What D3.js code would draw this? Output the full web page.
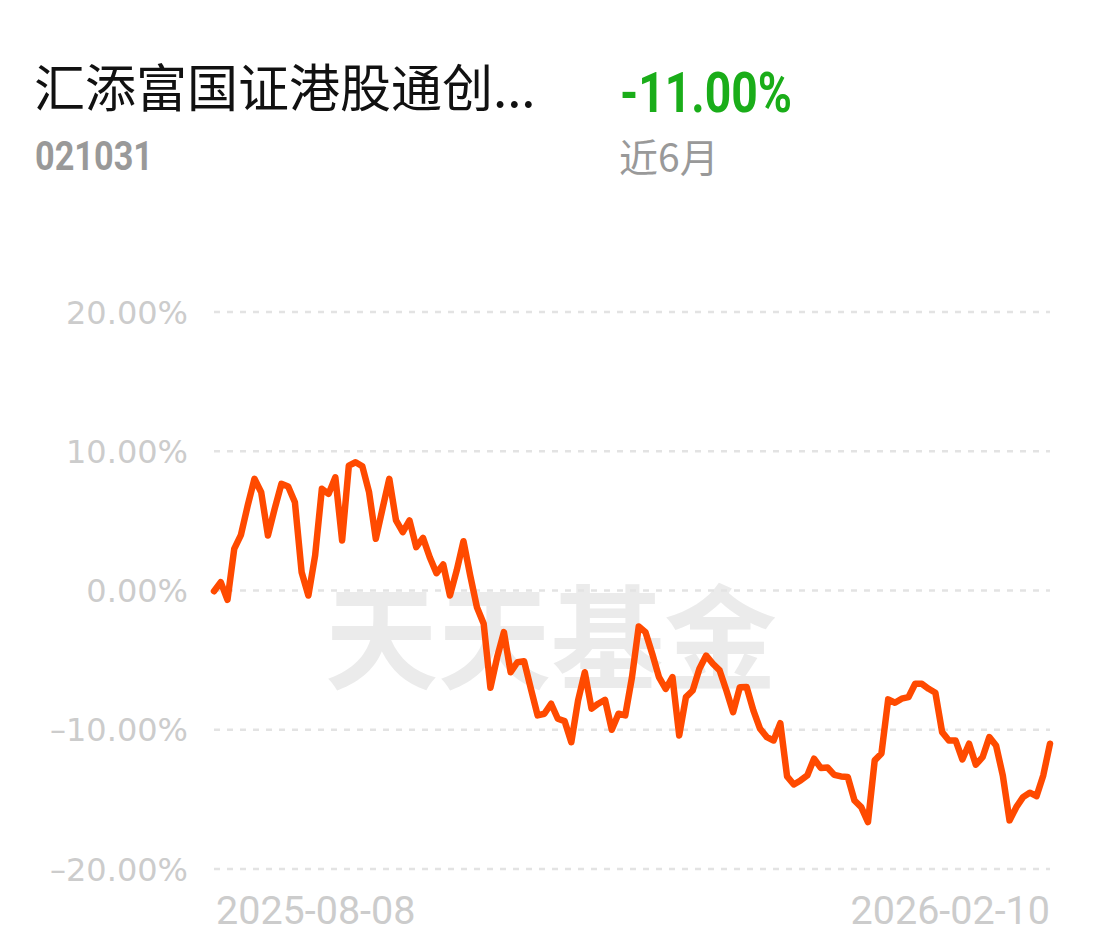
<!DOCTYPE html>
<html><head><meta charset="utf-8">
<script src="https://cdn.jsdelivr.net/npm/d3@7"></script>
<style>
html,body{margin:0;padding:0;background:#fff;}
svg{display:block;}
</style></head>
<body>
<svg id="c" width="1102" height="951"></svg>
<script>
// ---- data ----
const fundName = "汇添富国证港股通创...";
const fundCode = "021031";
const periodReturn = "-11.00%";
const periodLabel = "近6月";
const watermark = "天天基金";
const xLabels = ["2025-08-08", "2026-02-10"];
const yTicks = [20, 10, 0, -10, -20];
const yTickLabels = ["20.00%", "10.00%", "0.00%", "–10.00%", "–20.00%"];
// cumulative return (%) per trading day, 2025-08-08 .. 2026-02-10
const returns = [
  -0.05, 0.60, -0.67, 2.99, 4.00, 6.10, 8.02, 7.06, 3.95, 5.87,
  7.66, 7.47, 6.34, 1.31, -0.36, 2.51, 7.30, 6.94, 8.13, 3.59,
  8.97, 9.21, 8.92, 7.06, 3.71, 5.89, 8.02, 5.03, 4.19, 5.03,
  3.11, 3.78, 2.39, 1.24, 1.87, -0.36, 1.44, 3.54, 1.08, -1.20,
  -2.39, -6.98, -4.79, -2.99, -5.87, -5.15, -5.08, -7.06, -8.97, -8.85,
  -8.13, -9.21, -9.38, -10.89, -7.90, -5.87, -8.49, -8.13, -7.85, -10.00,
  -8.85, -8.97, -6.22, -2.58, -2.99, -4.54, -6.22, -7.06, -6.22, -10.41,
  -7.66, -7.18, -5.62, -4.67, -5.26, -5.74, -7.18, -8.74, -6.94, -6.93,
  -8.61, -9.93, -10.53, -10.77, -9.53, -13.35, -13.93, -13.64, -13.28, -12.08,
  -12.74, -12.71, -13.24, -13.35, -13.39, -15.08, -15.56, -16.63, -12.20, -11.70,
  -7.82, -8.06, -7.77, -7.66, -6.70, -6.70, -7.06, -7.34, -10.17, -10.77,
  -10.77, -12.13, -11.00, -12.51, -11.97, -10.53, -11.13, -13.28, -16.51, -15.56,
  -14.84, -14.52, -14.77, -13.28, -11.00
];

// ---- layout ----
const svg = d3.select("#c");
const plot = {left: 214, right: 1050, top: 312, bottom: 869};
const x = d3.scaleLinear().domain([0, returns.length - 1]).range([plot.left, plot.right]);
const y = d3.scaleLinear().domain([-20, 20]).range([plot.bottom, plot.top]);

// header
svg.append("text").attr("x", 34).attr("y", 107)
  .attr("font-family", "'Noto Sans CJK SC', sans-serif").attr("font-size", 51)
  .attr("fill", "#111").text(fundName);
svg.append("text").attr("x", 35).attr("y", 170)
  .attr("font-family", "Roboto, sans-serif").attr("font-weight", 700).attr("font-size", 40)
  .attr("textLength", 118).attr("lengthAdjust", "spacingAndGlyphs")
  .attr("fill", "#999").text(fundCode);
svg.append("text").attr("x", 620).attr("y", 112)
  .attr("font-family", "Roboto, sans-serif").attr("font-weight", 700).attr("font-size", 56)
  .attr("textLength", 172).attr("lengthAdjust", "spacingAndGlyphs")
  .attr("fill", "#1aad19").text(periodReturn);
svg.append("text").attr("x", 619).attr("y", 172)
  .attr("font-family", "'Noto Sans CJK SC', sans-serif").attr("font-size", 39)
  .attr("fill", "#999").text(periodLabel);

// watermark
svg.append("text").attr("x", 551).attr("y", 680).attr("text-anchor", "middle")
  .attr("font-family", "'Noto Sans CJK SC', sans-serif").attr("font-weight", 700).attr("font-size", 113)
  .attr("fill", "#ebebeb").text(watermark);

// grid
const g = svg.append("g");
g.selectAll("line.grid").data(yTicks).join("line")
  .attr("x1", plot.left).attr("x2", plot.right)
  .attr("y1", d => y(d)).attr("y2", d => y(d))
  .attr("stroke", "#e3e3e3").attr("stroke-width", 2.5).attr("stroke-dasharray", "6,7");

// y axis labels
g.selectAll("text.yl").data(yTicks).join("text")
  .attr("x", 188).attr("y", d => y(d)).attr("dy", "0.36em").attr("text-anchor", "end")
  .attr("font-family", "'DejaVu Sans', sans-serif").attr("font-size", 32)
  .attr("fill", "#cccccc").text((d, i) => yTickLabels[i]);

// x labels
svg.append("text").attr("x", 216).attr("y", 924)
  .attr("font-family", "Roboto, sans-serif").attr("font-size", 39.5)
  .attr("fill", "#cccccc").text(xLabels[0]);
svg.append("text").attr("x", 1050).attr("y", 924).attr("text-anchor", "end")
  .attr("font-family", "Roboto, sans-serif").attr("font-size", 39.5)
  .attr("fill", "#cccccc").text(xLabels[1]);

// line
const line = d3.line().x((d, i) => x(i)).y(d => y(d));
svg.append("path").datum(returns).attr("d", line)
  .attr("fill", "none").attr("stroke", "#ff4a00").attr("stroke-width", 6.5)
  .attr("stroke-linejoin", "round").attr("stroke-linecap", "round");
</script>
</body></html>
